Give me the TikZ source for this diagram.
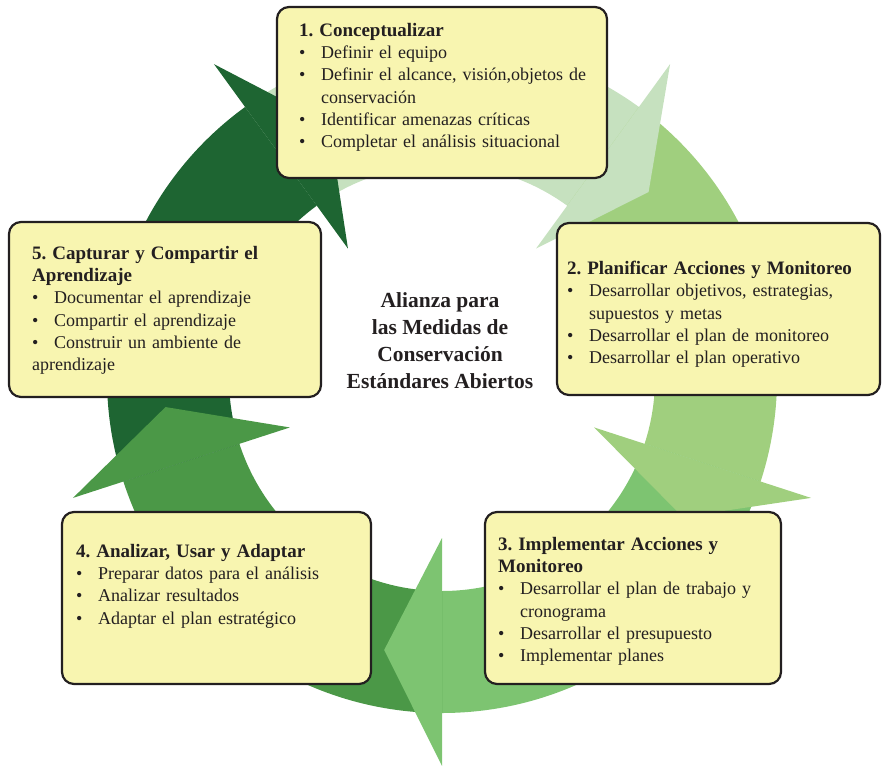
\documentclass[tikz,border=0pt]{standalone}
\usepackage{fontspec}
\setmainfont{Liberation Serif}
\usetikzlibrary{positioning}
\definecolor{ringA}{HTML}{C6E1BF}
\definecolor{ringB}{HTML}{A0CF7E}
\definecolor{ringC}{HTML}{7DC471}
\definecolor{ringD}{HTML}{4B9847}
\definecolor{ringE}{HTML}{1E6532}
\definecolor{boxfill}{HTML}{F8F5B0}
\definecolor{ink}{HTML}{231F20}
\tikzset{
  stagebox/.style={draw=ink, line width=2.2pt, rounded corners=12pt, fill=boxfill, inner sep=0pt},
  stagetext/.style={inner sep=0pt, align=left, text=ink, font=\frenchspacing\fontsize{18}{22.3}\selectfont},
  hubtext/.style={align=center, text=ink, font=\bfseries\fontsize{21.5}{27}\selectfont}
}
\newcommand{\itm}{\par\noindent\hangindent=22pt\hangafter=1\makebox[22pt][l]{\textbullet}}
\newcommand{\stagehead}[1]{{\bfseries\fontsize{19}{22.3}\selectfont #1}}

\begin{document}
\begin{tikzpicture}[x=1pt, y=1pt]
  \useasboundingbox (0,0) rectangle (882,-765);
  \begin{scope}[shift={(442,-378)}]
    % bands of the cycle
    \foreach \base/\col in {54/ringA,-18/ringB,-90/ringC,-162/ringD,126/ringE}
      \fill[\col] ({\base+72}:335pt) arc[start angle={\base+72}, end angle=\base, radius=335pt]
        -- (\base:213pt) arc[start angle=\base, end angle={\base+72}, radius=213pt] -- cycle;
    % arrow heads
    \foreach \base/\col in {54/ringA,-18/ringB,-90/ringC,-162/ringD,126/ringE}
      \fill[\col] (\base:388pt) -- ({\base-12}:278pt) -- (\base:160pt) -- cycle;
  \end{scope}

  \node[stagebox, minimum width=330pt, minimum height=171pt] (b1) at (442,-92.5) {};
  \node[stagebox, minimum width=323pt, minimum height=172pt] (b2) at (718.5,-309) {};
  \node[stagebox, minimum width=296pt, minimum height=172pt] (b3) at (633,-598) {};
  \node[stagebox, minimum width=309pt, minimum height=172pt] (b4) at (216.5,-598) {};
  \node[stagebox, minimum width=312pt, minimum height=175pt] (b5) at (165,-309.5) {};

  \node[stagetext, text width=300pt, below right=17pt and 23pt of b1.north west] (t1) {%
    \stagehead{1. Conceptualizar}
    \itm Definir el equipo
    \itm Definir el alcance, visión,objetos de\newline conservación
    \itm Identificar amenazas críticas
    \itm Completar el análisis situacional};
  \node[stagetext, text width=310pt, below right=39pt and 11pt of b2.north west] (t2) {%
    \stagehead{2. Planificar Acciones y Monitoreo}
    \itm Desarrollar objetivos, estrategias,\newline supuestos y metas
    \itm Desarrollar el plan de monitoreo
    \itm Desarrollar el plan operativo};
  \node[stagetext, text width=280pt, below right=26pt and 14pt of b3.north west] (t3) {%
    \stagehead{3. Implementar Acciones y\newline Monitoreo}
    \itm Desarrollar el plan de trabajo y\newline cronograma
    \itm Desarrollar el presupuesto
    \itm Implementar planes};
  \node[stagetext, text width=290pt, below right=33pt and 15pt of b4.north west] (t4) {%
    \stagehead{4. Analizar, Usar y Adaptar}
    \itm Preparar datos para el análisis
    \itm Analizar resultados
    \itm Adaptar el plan estratégico};
  \node[stagetext, text width=285pt, below right=25pt and 24pt of b5.north west] (t5) {%
    \stagehead{5. Capturar y Compartir el\newline Aprendizaje}
    \itm Documentar el aprendizaje
    \itm Compartir el aprendizaje
    \itm Construir un ambiente de\newline aprendizaje};

  \node[hubtext] (hub) at (440,-341) {Alianza para\\las Medidas de\\Conservación\\Estándares Abiertos};
\end{tikzpicture}
\end{document}
